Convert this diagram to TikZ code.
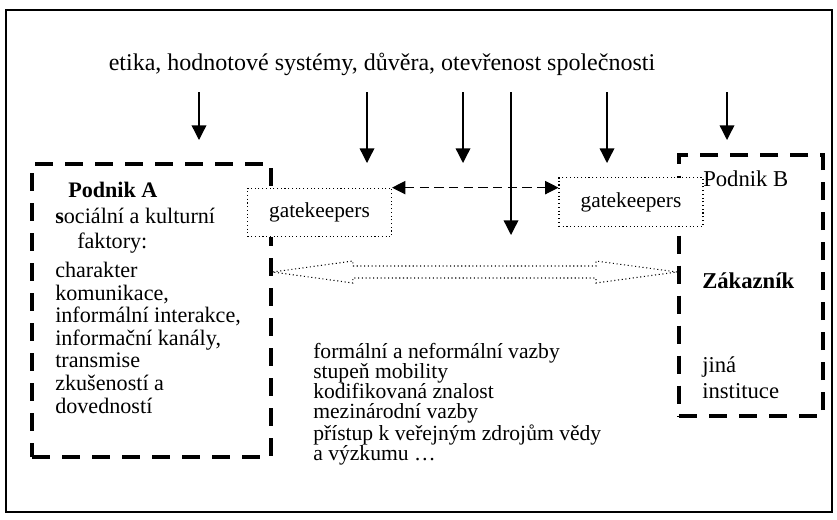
\documentclass[tikz,border=0pt]{standalone}
\usepackage{fontspec}
\setmainfont{Liberation Serif}
\usetikzlibrary{positioning}
\usetikzlibrary{arrows.meta}
\usetikzlibrary{calc}
\tikzset{
  firm/.style={rectangle,draw,line width=3pt,dash pattern=on 13.5pt off 9pt},
  gate/.style={rectangle,draw,dotted,line width=0.8pt,fill=white,
               minimum width=108pt,minimum height=36.5pt,inner sep=0pt,
               font=\fontsize{16}{19}\selectfont},
  influence/.style={>={Triangle[width=11pt,length=11pt]},line width=1pt,->},
  gatelink/.style={>={Triangle[width=10pt,length=10pt]},line width=0.8pt,
                   dash pattern=on 7pt off 4pt,<->},
  flow/.style={dotted,line width=0.8pt},
  headline/.style={inner sep=0pt,font=\fontsize{18}{21}\selectfont},
  bodytext/.style={inner sep=0pt,align=left,font=\fontsize{16.6}{16.9}\selectfont},
  listtext/.style={inner sep=0pt,align=left,font=\fontsize{16.2}{15}\selectfont},
  labeltext/.style={inner sep=0pt,align=left,font=\fontsize{17}{19.5}\selectfont},
}
\begin{document}
\begin{tikzpicture}[x=0.75pt,y=-0.75pt]
    \useasboundingbox (0,0) rectangle (837,519);
    \draw[line width=1.4pt] (6,10) rectangle (832,512);

    % Heading
    \node[headline] (ethos) at (382,64)
        {etika, hodnotové systémy, důvěra, otevřenost společnosti};

    % Companies
    \node[firm,minimum width=179pt,minimum height=220pt] (podA) at (151.5,310.5) {};
    \node[firm,minimum width=108pt,minimum height=196pt] (podB) at (751,285.5) {};

    % Gatekeepers
    \node[gate] (gkA) at (319.5,212.5) {gatekeepers};
    \node[gate] (gkB) at (631,202)     {gatekeepers};

    % Influences from above
    \foreach \x/\y [count=\i] in {199/140,367/163,463/163,511/235,607/163,727/140}{
        \coordinate (in\i)  at (\x,92);
        \coordinate (out\i) at (\x,\y);
        \draw[influence] (in\i) -- (out\i);
    }

    % Link between gatekeepers
    \draw[gatelink] (gkA.north east) -- (gkA.north east -| gkB.west);

    % Knowledge flow
    \coordinate (flowA) at (podA.east |- 0,272);
    \coordinate (flowB) at (podB.west |- 0,272);
    \draw[flow]
        (flowA) -- ++(80,-11) -- ++(0,5) -- ($(flowB)+(-81,-6)$) -- ++(0,-5)
        -- (flowB) -- ++(-81,11) -- ++(0,-5) -- ($(flowA)+(80,6)$) -- ++(0,5)
        -- cycle;

    % Texts (base = last line)
    \node[bodytext,anchor=base west] (factA) at (55,413)
        {\hspace*{9.75pt}\textbf{Podnik A}\\[2.2pt]
         \textbf{s}ociální a kulturní\\[2.2pt]
         \hspace*{16.5pt}faktory:\\[4.9pt]
         charakter\\ komunikace,\\ informální interakce,\\ informační kanály,\\
         transmise\\ zkušeností a\\ dovedností};
    \node[listtext,anchor=base west] (ties) at (313,460)
        {formální a neformální vazby\\ stupeň mobility\\ kodifikovaná znalost\\
         mezinárodní vazby\\ přístup k veřejným zdrojům vědy\\ a výzkumu …};
    \node[labeltext,anchor=base west] (nameB)  at (703,186) {Podnik B};
    \node[labeltext,anchor=base west] (client) at (702,288) {\textbf{Zákazník}};
    \node[labeltext,anchor=base west] (other)  at (702,398) {jiná\\ instituce};
\end{tikzpicture}
\end{document}
